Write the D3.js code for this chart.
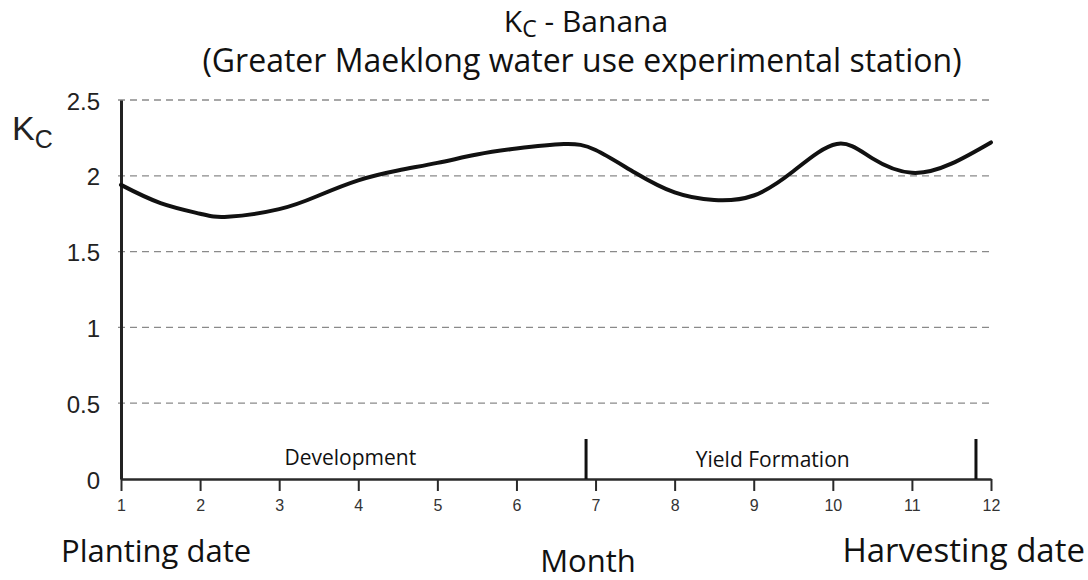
<!DOCTYPE html>
<html>
<head>
<meta charset="utf-8">
<script src="https://cdn.jsdelivr.net/npm/d3@7/dist/d3.min.js"></script>
<style>
  body { margin: 0; background: #fff; }
  svg { display: block; background: #fff; }
  .tick text { font-family: "Liberation Sans", Arial, sans-serif; }
  .label { font-family: "Open Sans", sans-serif; fill: #111; }
</style>
</head>
<body>
<svg width="1088" height="580"></svg>
<script>
// Kc values (month -> Kc)
const months = [1, 1.5, 2, 2.35, 3, 3.5, 4, 4.5, 5, 5.5, 6, 6.6, 7, 7.5, 8, 8.5, 9, 9.5, 10.05, 10.5, 11, 11.5, 12];
const kc = [1.94, 1.82, 1.75, 1.73, 1.78, 1.87, 1.97, 2.035, 2.085, 2.14, 2.18, 2.21, 2.17, 2.02, 1.89, 1.84, 1.87, 2.03, 2.21, 2.115, 2.02, 2.08, 2.22];

const monthTicks = [1, 2, 3, 4, 5, 6, 7, 8, 9, 10, 11, 12];
const kcTicks = [0, 0.5, 1, 1.5, 2, 2.5];

// growth stages: label, where the label sits, where the stage ends
const stageNames = ["Development", "Yield Formation"];
const stageLabelAt = [3.9, 9.24];
const stageEnds = [6.88, 11.81];

const svg = d3.select("svg"),
    margin = {top: 100, right: 97, bottom: 101, left: 121},
    width = +svg.attr("width") - margin.left - margin.right,
    height = +svg.attr("height") - margin.top - margin.bottom;

const x = d3.scaleLinear().domain([1, 12]).range([0, width]),
    y = d3.scaleLinear().domain([0, 2.5]).range([height, 0]);

const g = svg.append("g")
    .attr("transform", `translate(${margin.left},${margin.top})`);

// dashed grid lines
g.selectAll(".grid")
    .data(kcTicks.filter(d => d > 0))
    .enter().append("line")
    .attr("class", "grid")
    .attr("x1", -3)
    .attr("x2", width)
    .attr("y1", d => y(d))
    .attr("y2", d => y(d))
    .attr("stroke", "#8a8a8a")
    .attr("stroke-width", 1.3)
    .attr("stroke-dasharray", "7,5");

// x axis
const xAxis = g.append("g")
    .attr("class", "axis axis--x")
    .attr("transform", `translate(0,${height})`)
    .call(d3.axisBottom(x).tickValues(monthTicks).tickSize(12).tickPadding(9).tickSizeOuter(0));
xAxis.select(".domain").attr("stroke", "#2a2a2a").attr("stroke-width", 2.5);
xAxis.selectAll(".tick line").attr("stroke", "#2a2a2a").attr("stroke-width", 2);
xAxis.selectAll(".tick text").attr("font-size", 16).attr("fill", "#333");

// y axis
const yAxis = g.append("g")
    .attr("class", "axis axis--y")
    .call(d3.axisLeft(y).tickValues(kcTicks).tickSize(0).tickPadding(21).tickFormat(d3.format("")));
yAxis.select(".domain").attr("stroke", "#222").attr("stroke-width", 3);
yAxis.selectAll(".tick text").attr("font-size", 24).attr("fill", "#222").attr("dy", "0.38em");

// Kc curve
const line = d3.line()
    .x(d => x(d[0]))
    .y(d => y(d[1]))
    .curve(d3.curveNatural);

g.append("path")
    .datum(months.map((m, i) => [m, kc[i]]))
    .attr("fill", "none")
    .attr("stroke", "#111")
    .attr("stroke-width", 4)
    .attr("stroke-linecap", "round")
    .attr("d", line);

// stage end markers
g.selectAll(".stage-end")
    .data(stageEnds)
    .enter().append("line")
    .attr("class", "stage-end")
    .attr("x1", d => x(d))
    .attr("x2", d => x(d))
    .attr("y1", height - 40)
    .attr("y2", height)
    .attr("stroke", "#111")
    .attr("stroke-width", 3);

// stage labels
g.selectAll(".stage-label")
    .data(stageNames)
    .enter().append("text")
    .attr("class", "label stage-label")
    .attr("x", (d, i) => x(stageLabelAt[i]))
    .attr("y", (d, i) => height - 14 + i * 2)
    .attr("text-anchor", "middle")
    .attr("font-size", 21)
    .text(d => d);

// y axis title  K_C
const yTitle = svg.append("text")
    .attr("x", 12)
    .attr("y", 140)
    .attr("font-family", "Liberation Sans, Arial, sans-serif")
    .attr("fill", "#222");
yTitle.append("tspan").attr("font-size", 34).text("K");
yTitle.append("tspan").attr("font-size", 25).attr("dy", 8).text("C");

// chart title
const title = svg.append("text")
    .attr("class", "label")
    .attr("x", 586)
    .attr("y", 32)
    .attr("text-anchor", "middle")
    .attr("font-size", 30);
title.append("tspan").text("K");
title.append("tspan").attr("font-size", 23).attr("dy", 5).text("C");
title.append("tspan").attr("dy", -5).text(" - Banana");

svg.append("text")
    .attr("class", "label")
    .attr("x", 582)
    .attr("y", 72)
    .attr("text-anchor", "middle")
    .attr("font-size", 32)
    .text("(Greater Maeklong water use experimental station)");

// bottom captions
svg.append("text")
    .attr("class", "label")
    .attr("x", 61)
    .attr("y", 562)
    .attr("font-size", 31)
    .text("Planting date");

svg.append("text")
    .attr("class", "label")
    .attr("x", 588)
    .attr("y", 572)
    .attr("text-anchor", "middle")
    .attr("font-size", 31)
    .text("Month");

svg.append("text")
    .attr("class", "label")
    .attr("x", 1085)
    .attr("y", 562)
    .attr("text-anchor", "end")
    .attr("font-size", 33)
    .text("Harvesting date");
</script>
</body>
</html>
